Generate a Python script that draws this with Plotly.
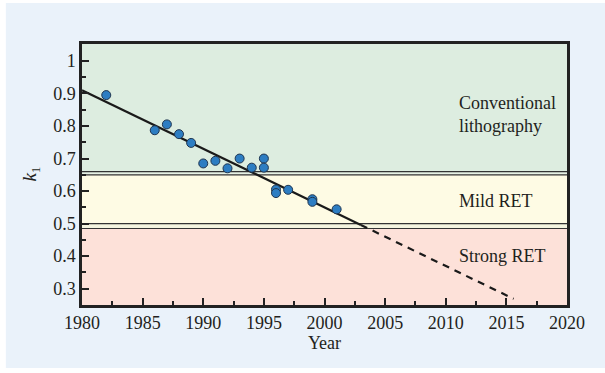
import plotly.graph_objects as go

# ---- data ----
years = [1982, 1986, 1987, 1988, 1989, 1990, 1991, 1992, 1993, 1994, 1995, 1995,
         1996, 1996, 1997, 1999, 1999, 2001]
k1 = [0.895, 0.787, 0.805, 0.775, 0.748, 0.685, 0.693, 0.670, 0.700, 0.672, 0.700, 0.672,
      0.605, 0.594, 0.604, 0.575, 0.567, 0.544]

fit_years = [1980, 2003]
fit_k1 = [0.910, 0.496]
proj_years = [2003, 2015.6]
proj_k1 = [0.496, 0.269]

# band edges (k1 values)
conv_low = 0.66
mild_high = 0.65
mild_low = 0.50
strong_high = 0.485
band_labels = ["Conventional<br>lithography", "Mild RET", "Strong RET"]
band_label_y = [0.836, 0.569, 0.402]
band_label_x = 2010.9

x_ticks = [1980, 1985, 1990, 1995, 2000, 2005, 2010, 2015, 2020]
y_ticks = [0.3, 0.4, 0.5, 0.6, 0.7, 0.8, 0.9, 1.0]
y_tick_text = ["0.3", "0.4", "0.5", "0.6", "0.7", "0.8", "0.9", "1"]

FONT = "Liberation Serif"
TXT = "#231f20"
LINE = "#222222"

fig = go.Figure()

fig.add_trace(go.Scatter(x=fit_years, y=fit_k1, mode="lines",
                         line=dict(color="#1a1a1a", width=2.2), showlegend=False,
                         hoverinfo="skip"))
fig.add_trace(go.Scatter(x=proj_years, y=proj_k1, mode="lines",
                         line=dict(color="#1a1a1a", width=2.2, dash="7px,6px"),
                         showlegend=False, hoverinfo="skip"))
fig.add_trace(go.Scatter(x=years, y=k1, mode="markers",
                         marker=dict(size=9, color="#2d7dc2",
                                     line=dict(color="#1f3550", width=1)),
                         showlegend=False))

shapes = []
# outer light-blue background
shapes.append(dict(type="rect", xref="paper", yref="paper",
                   x0=-0.157, x1=1.08, y0=-0.241, y1=1.157,
                   fillcolor="#eaf2fa", line=dict(width=0), layer="below"))
ymin, ymax = 0.25, 1.052
bands = [
    (conv_low, ymax, "#ddede0"),
    (mild_high, conv_low, "#e6f1e4"),
    (mild_low, mild_high, "#fefbe4"),
    (strong_high, mild_low, "#f4f4df"),
    (ymin, strong_high, "#fde1d9"),
]
for y0, y1, c in bands:
    shapes.append(dict(type="rect", xref="x", yref="y", x0=1980, x1=2020,
                       y0=y0, y1=y1, fillcolor=c, line=dict(width=0), layer="below"))
for yv in [conv_low, mild_high, mild_low, strong_high]:
    shapes.append(dict(type="line", xref="x", yref="y", x0=1980, x1=2020,
                       y0=yv, y1=yv, line=dict(color="#333333", width=1.2),
                       layer="below"))

annotations = []
for lab, yv in zip(band_labels, band_label_y):
    annotations.append(dict(x=band_label_x, y=yv, xref="x", yref="y", text=lab,
                            showarrow=False, xanchor="left", yanchor="middle",
                            align="left", font=dict(family=FONT, size=18, color=TXT)))
annotations.append(dict(x=-0.107, y=0.5, xref="paper", yref="paper",
                        text="<i>k</i><sub>1</sub>", textangle=-90, showarrow=False,
                        xanchor="center", yanchor="middle",
                        font=dict(family=FONT, size=19, color=TXT)))

fig.update_layout(
    width=605, height=373,
    margin=dict(l=82, r=38, t=44, b=68),
    paper_bgcolor="white",
    plot_bgcolor="rgba(0,0,0,0)",
    shapes=shapes,
    annotations=annotations,
    font=dict(family=FONT, size=18, color=TXT),
    xaxis=dict(range=[1980, 2020], tickvals=x_ticks, ticks="inside", ticklen=7,
               tickwidth=2, tickcolor=LINE,
               minor=dict(ticks="inside", ticklen=4, tickwidth=2, tickcolor=LINE,
                          dtick=2.5, showgrid=False),
               showgrid=False, zeroline=False, showline=True, linecolor=LINE,
               linewidth=2.5, mirror=True,
               title=dict(text="Year", standoff=4, font=dict(family=FONT, size=18, color=TXT)),
               tickfont=dict(family=FONT, size=18, color=TXT)),
    yaxis=dict(range=[ymin, ymax], tickvals=y_ticks, ticktext=y_tick_text,
               ticks="inside", ticklen=7, tickwidth=2, tickcolor=LINE,
               minor=dict(ticks="inside", ticklen=4, tickwidth=2, tickcolor=LINE,
                          tickvals=[0.25, 0.35, 0.45, 0.55, 0.65, 0.75, 0.85, 0.95],
                          showgrid=False),
               showgrid=False, zeroline=False, showline=True, linecolor=LINE,
               linewidth=2.5, mirror=True,
               tickfont=dict(family=FONT, size=18, color=TXT)),
)

fig.write_html("out.html", config={"displayModeBar": False},
               post_script="document.body.style.margin='0';document.body.style.padding='0';")
